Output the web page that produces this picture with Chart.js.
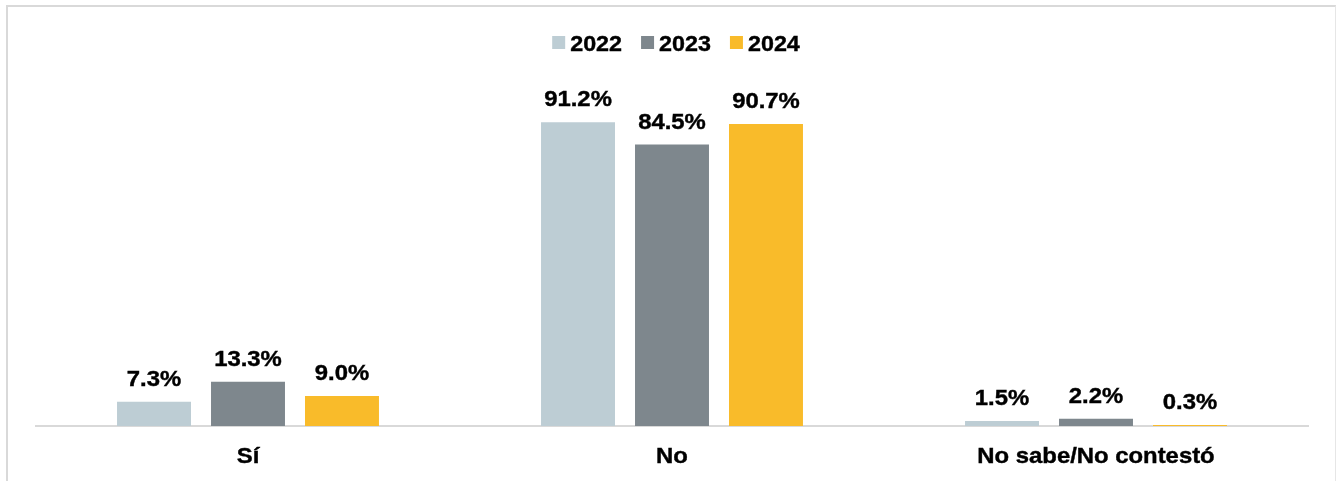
<!DOCTYPE html>
<html>
<head>
<meta charset="utf-8">
<script src="https://cdn.jsdelivr.net/npm/chart.js@4/dist/chart.umd.min.js"></script>
<style>
    html, body { margin: 0; padding: 0; background: #fff; }
    .chart-wrap { position: relative; width: 1336px; height: 481px; overflow: hidden; }
    .chart-frame {
        position: absolute; left: 6px; top: 5px; width: 1327px; height: 490px;
        border-left: 2px solid #d9d9d9; border-top: 2px solid #d9d9d9; border-right: 1px solid #e6e6e6;
    }
    #survey-chart { position: absolute; left: 0; top: 0; }
</style>
</head>
<body>
<div class="chart-wrap">
    <div class="chart-frame"></div>
    <canvas id="survey-chart" width="1336" height="481"></canvas>
</div>
<script>
    const categories = ['Sí', 'No', 'No sabe/No contestó'];
    const seriesLabels = ['2022', '2023', '2024'];
    const values2022 = [7.3, 91.2, 1.5];
    const values2023 = [13.3, 84.5, 2.2];
    const values2024 = [9.0, 90.7, 0.3];
    const seriesColors = ['#bdcdd4', '#7e878d', '#f9bb2a'];

    const fontFamily = '"Liberation Sans", Arial, sans-serif';

    // draw bold text slightly widened, like the original deck graphics
    function drawWideText(ctx, text, x, y, size, stretch, align) {
        ctx.save();
        ctx.font = 'bold ' + size + 'px ' + fontFamily;
        ctx.fillStyle = '#000';
        ctx.strokeStyle = '#000';
        ctx.lineWidth = 0.4;
        ctx.textBaseline = 'alphabetic';
        ctx.textAlign = align || 'center';
        ctx.translate(x, y);
        ctx.scale(stretch, 1);
        ctx.fillText(text, 0, 0);
        ctx.strokeText(text, 0, 0);
        ctx.restore();
    }

    function textWidth(ctx, text, size, stretch) {
        ctx.save();
        ctx.font = 'bold ' + size + 'px ' + fontFamily;
        let w = ctx.measureText(text).width * stretch;
        ctx.restore();
        return w;
    }

    // legend row: square swatch + year, centred over the plot
    const legendRow = {
        id: 'legendRow',
        afterDraw(chart) {
            const ctx = chart.ctx;
            const size = 22, stretch = 1.06, box = 13, boxGap = 5, itemGap = 19;
            const sets = chart.data.datasets;
            let total = 0;
            sets.forEach(function(ds, i) {
                total += box + boxGap + textWidth(ctx, ds.label, size, stretch);
                if (i < sets.length - 1) total += itemGap;
            });
            let x = (chart.chartArea.left + chart.chartArea.right) / 2 + 4 - total / 2;
            const baseline = 50.5;
            sets.forEach(function(ds) {
                ctx.fillStyle = ds.backgroundColor;
                ctx.fillRect(x, 36, box, box);
                x += box + boxGap;
                drawWideText(ctx, ds.label, x, baseline, size, stretch, 'left');
                x += textWidth(ctx, ds.label, size, stretch) + itemGap;
            });
        }
    };

    // value labels above each bar and category names under the axis
    const barLabels = {
        id: 'barLabels',
        afterDatasetsDraw(chart) {
            const ctx = chart.ctx;
            chart.data.datasets.forEach(function(ds, i) {
                chart.getDatasetMeta(i).data.forEach(function(bar, j) {
                    drawWideText(ctx, ds.data[j].toFixed(1) + '%', bar.x, bar.y - 16, 21.5, 1.11);
                });
            });
            const xScale = chart.scales.x;
            categories.forEach(function(cat, j) {
                drawWideText(ctx, cat, xScale.getPixelForTick(j), 463, 21.5, 1.11);
            });
        }
    };

    const ctx = document.getElementById('survey-chart').getContext('2d');
    const surveyChart = new Chart(ctx, {
        type: 'bar',
        data: {
            labels: categories,
            datasets: [
                { label: seriesLabels[0], data: values2022, backgroundColor: seriesColors[0] },
                { label: seriesLabels[1], data: values2023, backgroundColor: seriesColors[1] },
                { label: seriesLabels[2], data: values2024, backgroundColor: seriesColors[2] }
            ]
        },
        options: {
            responsive: false,
            animation: false,
            categoryPercentage: 0.665,
            barPercentage: 0.787,
            layout: {
                padding: { left: 36, right: 28, top: 93, bottom: 47 }
            },
            plugins: {
                legend: { display: false },
                tooltip: { enabled: false }
            },
            scales: {
                x: {
                    grid: { display: false },
                    ticks: { display: false },
                    border: { display: true, color: '#d9d9d9', width: 2 }
                },
                y: {
                    display: false,
                    min: 0,
                    max: 100
                }
            }
        },
        plugins: [legendRow, barLabels]
    });
</script>
</body>
</html>
